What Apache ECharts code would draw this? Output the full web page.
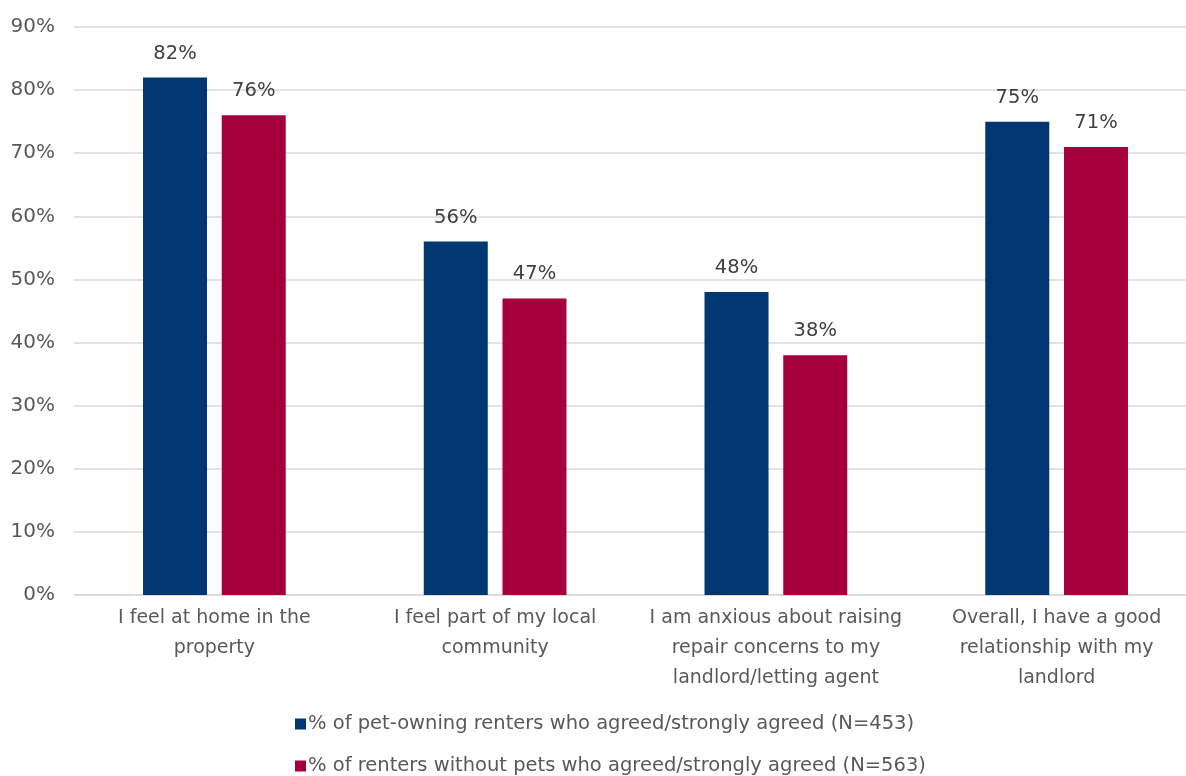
<!DOCTYPE html>
<html>
<head>
<meta charset="utf-8">
<script src="https://cdn.jsdelivr.net/npm/echarts@6/dist/echarts.min.js"></script>
<style>
html,body{margin:0;padding:0;background:#fff;}
#chart{width:1186px;height:776px;}
</style>
</head>
<body>
<div id="chart"></div>
<script>
const categories = [
  "I feel at home in the\nproperty",
  "I feel part of my local\ncommunity",
  "I am anxious about raising\nrepair concerns to my\nlandlord/letting agent",
  "Overall, I have a good\nrelationship with my\nlandlord"
];
const seriesNames = [
  "% of pet-owning renters who agreed/strongly agreed (N=453)",
  "% of renters without pets who agreed/strongly agreed (N=563)"
];
const petOwners = [82, 56, 48, 75];
const noPets = [76, 47, 38, 71];
const colors = ["#003671", "#A5003C"];

const font = "'DejaVu Sans', sans-serif";
const chart = echarts.init(document.getElementById('chart'));
chart.setOption({
  animation: false,
  textStyle: {fontFamily: font},
  color: colors,
  grid: {left: 74, width: 1123, top: 27, bottom: 181, containLabel: false, outerBoundsMode: 'none'},
  legend: {
    orient: 'vertical',
    left: 290,
    top: 709,
    height: 100,
    itemWidth: 11,
    itemHeight: 11,
    itemGap: 22,
    icon: 'rect',
    textStyle: {fontSize: 19.5, color: '#595959', fontFamily: font, padding: [0,0,0,-3]},
    data: seriesNames
  },
  xAxis: {
    type: 'category',
    data: categories,
    axisTick: {show: false},
    axisLine: {lineStyle: {color: '#d9d9d9', width: 1.5}},
    axisLabel: {fontSize: 19, color: '#595959', lineHeight: 30, margin: 8, interval: 0}
  },
  yAxis: {
    type: 'value',
    min: 0, max: 90, interval: 10,
    axisLabel: {formatter: '{value}%', fontSize: 20, color: '#595959', margin: 19},
    splitLine: {lineStyle: {color: '#d9d9d9', width: 1.5}},
    axisLine: {show: false},
    axisTick: {show: false}
  },
  series: [
    {
      name: seriesNames[0], type: 'bar', data: petOwners,
      barWidth: 64, barGap: '23%',
      label: {show: true, position: 'top', formatter: '{c}%', fontSize: 19.5, color: '#404040', distance: 14}
    },
    {
      name: seriesNames[1], type: 'bar', data: noPets,
      barWidth: 64,
      label: {show: true, position: 'top', formatter: '{c}%', fontSize: 19.5, color: '#404040', distance: 14}
    }
  ]
});
</script>
</body>
</html>
